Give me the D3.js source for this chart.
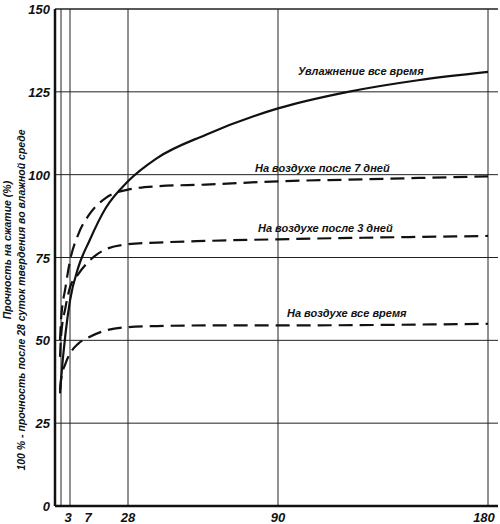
<!DOCTYPE html><html><head><meta charset="utf-8">
<script src="https://cdn.jsdelivr.net/npm/d3@7"></script>
<style>body{margin:0;background:#fff}text{font-family:"Liberation Sans",Arial,sans-serif;font-weight:bold;font-style:italic;fill:#111}</style></head><body>
<svg id="c" width="500" height="524"></svg>
<script>
const xTicks=[3,7,28,90,180];
const yTicks=[0,25,50,75,100,125,150];
const moistDays=[2.5,3,5,7,10,14,20,28,40,60,90,120,150,180];
const moistVals=[34,38,52,62,72,80,90,98,105,112,120,125,128.5,131];
const air7Days=[2.5,3,5,7,10,14,20,28,40,60,90,120,180];
const air7Vals=[50,56,66,74,82,88,93,95.5,96.5,97,98,98.5,99.5];
const air3Days=[2.5,3,5,7,10,14,20,28,40,60,90,180];
const air3Vals=[45,51,60,66,70,74,77.5,79,79.5,80,80.5,81.5];
const airDays=[2.5,3,5,7,10,14,20,28,40,60,90,180];
const airVals=[35,38,43,46,49,51,53,54,54.3,54.5,54.5,55];
const labels=["Увлажнение все время","На воздухе после 7 дней","На воздухе после 3 дней","На воздухе все время"];
const svg=d3.select("#c");
const x=d3.scaleLinear().domain([0,3,7,28,90,180]).range([55,61,70,128,278,488]);
const y=d3.scaleLinear().domain([0,150]).range([506,9]);
const g=svg.append("g");
yTicks.filter(v=>v>0).forEach(v=>g.append("line").attr("x1",55).attr("x2",498).attr("y1",y(v)).attr("y2",y(v)).attr("stroke","#222").attr("stroke-width",v==150?1.5:1));
xTicks.forEach(v=>g.append("line").attr("x1",x(v)).attr("x2",x(v)).attr("y1",y(0)).attr("y2",y(150)).attr("stroke","#222").attr("stroke-width",1));
g.append("line").attr("x1",55).attr("x2",498).attr("y1",y(0)).attr("y2",y(0)).attr("stroke","#111").attr("stroke-width",2.5);
g.append("line").attr("x1",55).attr("x2",55).attr("y1",y(0)).attr("y2",y(150)).attr("stroke","#111").attr("stroke-width",2.5);
yTicks.forEach(v=>g.append("text").attr("x",50).attr("y",y(v)+5).attr("text-anchor","end").attr("font-size",13).text(v));
xTicks.forEach(v=>g.append("text").attr("x",x(v)+(v==3?7:v==7?18:v==180?-4:0)).attr("y",522).attr("text-anchor","middle").attr("font-size",13).text(v));
const line=d3.line().x(d=>x(d[0])).y(d=>y(d[1])).curve(d3.curveMonotoneX);
const series=[[moistDays,moistVals,null,2.2],[air7Days,air7Vals,"14,7",2.2],[air3Days,air3Vals,"14,7",2.2],[airDays,airVals,"14,7",2.2]];
series.forEach(s=>g.append("path").attr("d",line(s[0].map((d,i)=>[d,s[1][i]]))).attr("fill","none").attr("stroke","#111").attr("stroke-width",s[3]).attr("stroke-dasharray",s[2]));
const lp=[[298,75],[255,172],[258,232],[287,317]];
labels.forEach((t,i)=>g.append("text").attr("x",lp[i][0]).attr("y",lp[i][1]).attr("font-size",11).text(t));
g.append("text").attr("transform","translate(11,250) rotate(-90)").attr("text-anchor","middle").attr("font-size",10.5).text("Прочность на сжатие (%)");
g.append("text").attr("transform","translate(25,300) rotate(-90)").attr("text-anchor","middle").attr("font-size",10.5).text("100 % - прочность после 28 суток  твердения во влажной среде");
</script></body></html>
